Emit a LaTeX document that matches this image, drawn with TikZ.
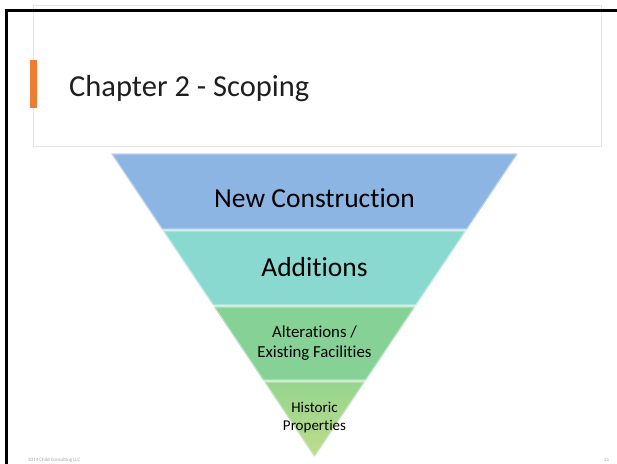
\documentclass[tikz,border=0pt]{standalone}
\usepackage{fontspec}
\setmainfont{Carlito}[Ligatures={NoCommon}]
\definecolor{bandblue}{RGB}{141,181,228}
\definecolor{bandteal}{RGB}{138,217,208}
\definecolor{bandgreen}{RGB}{134,209,150}
\definecolor{bandtopY}{RGB}{150,212,142}
\definecolor{bandbotY}{RGB}{190,220,140}
\definecolor{accent}{RGB}{237,125,49}
\definecolor{boxgray}{RGB}{228,228,228}
\definecolor{titletext}{RGB}{30,30,30}
\begin{document}
\begin{tikzpicture}[x=1pt,y=-1pt,
  band/.style={line width=1.2pt, line join=round},
  bigtxt/.style={font=\fontsize{27.5}{32}\selectfont, text=black, inner sep=0pt},
  midtxt/.style={font=\fontsize{16.8}{19.5}\selectfont, text=black, align=center, inner sep=0pt},
  smalltxt/.style={font=\fontsize{15}{18}\selectfont, text=black, align=center, inner sep=0pt},
  foot/.style={font=\fontsize{5}{6}\selectfont, text=black!35, inner sep=0pt, anchor=base west}]
\useasboundingbox (0,0) rectangle (617,463);
\fill[white] (0,0) rectangle (617,463);
\begin{scope}
\clip (0,0) rectangle (617,463);
% title box
\draw[boxgray, line width=0.8pt] (33,5) rectangle (601.5,146);
% black frame
\draw[black, line width=3pt] (6.5,470) -- (6.5,10) -- (630,10);
% bands
\draw[band, fill=bandblue, draw=bandblue!60!white] (112,154) -- (517,154) -- (466.7,229) -- (162.3,229) -- cycle;
\draw[band, fill=bandteal, draw=bandteal!55!white] (163.6,231) -- (465.4,231) -- (415.7,305) -- (213.3,305) -- cycle;
\draw[band, fill=bandgreen, draw=bandgreen!60!white] (214.6,307) -- (414.4,307) -- (365.5,380) -- (263.5,380) -- cycle;
\shade[top color=bandtopY, bottom color=bandbotY] (264.9,382) -- (364.1,382) -- (314.5,456) -- cycle;
\draw[band, draw=bandtopY!60!white] (264.9,382) -- (364.1,382) -- (314.5,456) -- cycle;
% footer
\node[foot] (copy) at (28,461) {2014 Child Consulting LLC};
\node[foot] (pnum) at (604,461) {21};
\end{scope}
% orange accent
\fill[accent] (30,60) rectangle (37,108);
\node[font=\fontsize{30.5}{36}\selectfont, text=titletext, anchor=base west, inner sep=0pt] (title) at (69,96) {Chapter 2 - Scoping};
\node[bigtxt] (newc) at (314.5,198) {New Construction};
\node[bigtxt] (add) at (314.5,267) {Additions};
\node[midtxt] (alt) at (314.5,343) {Alterations /\\Existing Facilities};
\node[smalltxt] (hist) at (314.5,418) {Historic\\Properties};
\end{tikzpicture}
\end{document}
